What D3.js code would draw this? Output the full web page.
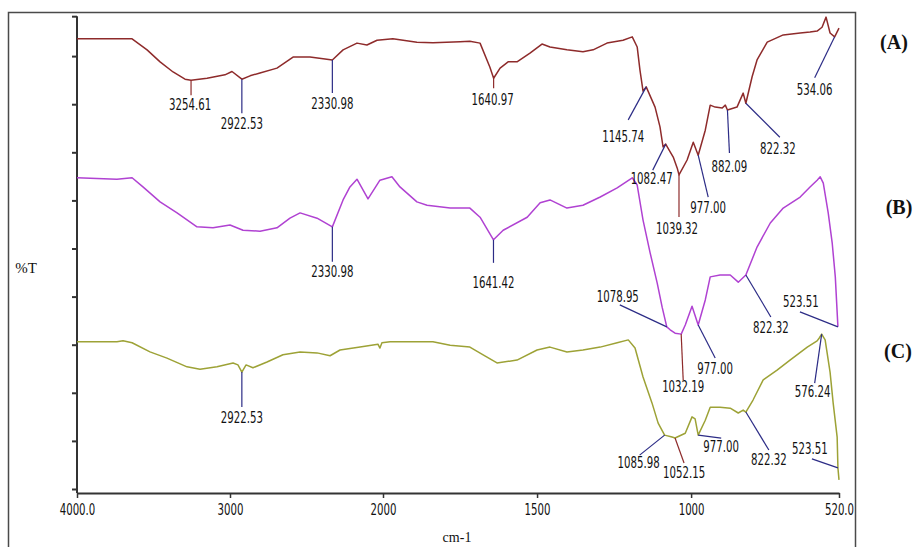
<!DOCTYPE html>
<html>
<head>
<meta charset="utf-8">
<script src="https://cdn.jsdelivr.net/npm/d3@7/dist/d3.min.js"></script>
<style>
  html, body { margin: 0; padding: 0; background: #fff; }
  svg { display: block; }
  .peak { font-family: "DejaVu Sans", sans-serif; font-size: 15px; fill: #111; }
  .tick-label { font-family: "DejaVu Sans", sans-serif; font-size: 15px; fill: #111; }
  .serif { font-family: "Liberation Serif", "DejaVu Serif", serif; fill: #111; }
</style>
</head>
<body>
<svg id="chart" width="916" height="547"></svg>
<script>
// FTIR spectra: wavenumber (cm-1) vs %T, three samples offset vertically
const seriesA = [
  [4000, 93.6], [3640, 93.6], [3542, 91.3], [3457, 88.8], [3372, 86.7], [3294, 85.2],
  [3254.61, 85.0], [3150, 85.4], [3033, 86.1], [2987, 86.8], [2922.53, 85.2], [2869, 85.9],
  [2804, 86.5], [2693, 87.5], [2588, 89.8], [2477, 89.8], [2379, 89.4], [2330.98, 89.2],
  [2261, 91.3], [2170, 92.7], [2105, 92.3], [2039, 93.3], [1968, 93.6], [1890, 92.9],
  [1838, 92.8], [1750, 93.0], [1718, 93.1], [1685, 92.7], [1653, 87.7], [1640.97, 85.4],
  [1620, 87.5], [1594, 88.8], [1565, 88.8], [1523, 90.6], [1484, 92.5], [1458, 91.9],
  [1403, 91.3], [1351, 90.9], [1318, 91.3], [1273, 92.7], [1221, 93.3], [1191, 94.0],
  [1175, 91.9], [1166, 87.1], [1156, 82.7], [1145.74, 83.6], [1117, 79.4], [1101, 75.3],
  [1091, 71.1], [1082.47, 71.7], [1068, 70.1], [1058, 69.0], [1045, 66.7], [1039.32, 65.3],
  [1013, 68.4], [993, 72.1], [977, 69.4], [954, 74.6], [938, 79.8], [922, 79.4],
  [899, 79.2], [889, 79.8], [882.09, 78.8], [851, 79.4], [831, 82.3], [822.32, 80.2],
  [802, 85.7], [786, 89.2], [753, 92.9], [701, 94.4], [646, 94.8], [614, 95.0],
  [591, 95.2], [575, 96.0], [562, 98.1], [549, 94.8], [534.06, 94.0], [520, 95.8]
];

const seriesB = [
  [4000, 64.7], [3739, 64.4], [3640, 64.7], [3569, 62.8], [3457, 59.7], [3346, 57.4],
  [3216, 54.5], [3111, 54.3], [3000, 54.9], [2915, 53.8], [2804, 53.6], [2693, 54.3],
  [2608, 56.3], [2542, 57.4], [2431, 56.3], [2330.98, 54.5], [2261, 60.1], [2216, 62.8],
  [2170, 64.4], [2098, 60.3], [2020, 64.2], [1971, 64.9], [1945, 62.8], [1890, 59.7],
  [1857, 59.0], [1782, 58.4], [1718, 58.4], [1685, 56.5], [1641.42, 51.8], [1610, 53.8],
  [1532, 56.5], [1490, 59.5], [1458, 60.1], [1403, 58.4], [1351, 59.0], [1295, 60.7],
  [1240, 62.6], [1191, 64.7], [1175, 63.2], [1156, 55.9], [1133, 49.1], [1110, 42.8],
  [1094, 37.8], [1078.95, 33.7], [1068, 33.1], [1052, 32.4], [1032.19, 32.2], [1019, 34.1],
  [997, 38.0], [977, 34.1], [954, 39.3], [938, 44.1], [906, 44.5], [873, 44.5],
  [847, 43.0], [822.32, 44.5], [786, 50.3], [743, 55.3], [701, 58.4], [646, 60.7],
  [614, 62.8], [591, 64.2], [581, 64.9], [571, 63.6], [555, 57.4], [542, 51.1],
  [532, 44.1], [523.51, 33.7]
];

const seriesC = [
  [4000, 30.6], [3739, 30.6], [3699, 30.8], [3640, 30.4], [3523, 28.5], [3412, 27.2],
  [3281, 25.4], [3196, 24.9], [3085, 25.4], [2980, 26.2], [2948, 25.8], [2922.53, 24.3],
  [2895, 25.8], [2850, 25.2], [2758, 26.4], [2654, 27.9], [2542, 28.5], [2431, 28.3],
  [2346, 27.7], [2281, 28.9], [2150, 29.5], [2033, 30.1], [2020, 29.3], [2007, 30.4],
  [1977, 30.6], [1890, 30.6], [1838, 30.6], [1782, 29.9], [1718, 29.5], [1675, 27.9],
  [1630, 26.2], [1565, 26.8], [1500, 28.9], [1458, 29.5], [1403, 28.5], [1351, 28.9],
  [1295, 29.5], [1240, 30.4], [1204, 31.0], [1182, 29.3], [1156, 23.3], [1127, 17.9],
  [1107, 13.7], [1085.98, 11.2], [1062, 10.8], [1052.15, 10.6], [1019, 11.6], [997, 15.0],
  [987, 14.6], [977, 11.2], [954, 14.3], [938, 17.0], [906, 17.0], [873, 16.8],
  [847, 15.8], [831, 16.4], [822.32, 16.0], [799, 18.5], [766, 22.7], [721, 24.7],
  [679, 26.8], [623, 29.5], [591, 30.8], [584, 31.4], [576.24, 32.2], [565, 31.0],
  [549, 24.3], [539, 17.9], [526, 10.8], [523.51, 4.4], [520, 1.9]
];

const seriesNames = ["(A)", "(B)", "(C)"];

// Marked peak positions (cm-1) for each spectrum
const peaksA = [3254.61, 2922.53, 2330.98, 1640.97, 1145.74, 1082.47, 1039.32, 977.00, 882.09, 822.32, 534.06];
const peaksB = [2330.98, 1641.42, 1078.95, 1032.19, 977.00, 822.32, 523.51];
const peaksC = [2922.53, 1085.98, 1052.15, 977.00, 822.32, 576.24, 523.51];

const wavenumberTicks = [4000, 3000, 2000, 1500, 1000, 520];
const wavenumberTickLabels = ["4000.0", "3000", "2000", "1500", "1000", "520.0"];
const transmittanceTicks = [0, 10, 20, 30, 40, 50, 60, 70, 80, 90, 98.3];

// ---- layout ----
const svg = d3.select("#chart");
const colors = { A: "#8e2b2b", B: "#b042d2", C: "#9da236" };
const leaderNavy = "#2c2c86";
const narrow = 0.68; // horizontal squeeze for the instrument's narrow lettering

// instrument-style expanded scale below 2000 cm-1
const x = d3.scaleLinear().domain([4000, 2000, 520]).range([77, 383, 839]);
const y = d3.scaleLinear().domain([0, 100]).range([489, 8]);

// outer frame
svg.append("rect")
  .attr("x", 8.5).attr("y", 12.5).attr("width", 847).attr("height", 560)
  .attr("fill", "none").attr("stroke", "#4a4a4a").attr("stroke-width", 1.5);

// y axis (no labels)
const yAxis = d3.axisLeft(y).tickValues(transmittanceTicks).tickSize(5).tickSizeOuter(0).tickFormat("");
const gy = svg.append("g").attr("transform", "translate(77,0)").call(yAxis);
gy.select(".domain").remove();
gy.append("line").attr("x1", 0).attr("x2", 0).attr("y1", y(98.3)).attr("y2", 493)
  .attr("stroke", "#333").attr("stroke-width", 2);
gy.selectAll(".tick line").attr("stroke", "#333").attr("stroke-width", 2);

// x axis
const xAxis = d3.axisBottom(x).tickValues(wavenumberTicks).tickSize(5).tickSizeOuter(0)
  .tickFormat((d, i) => wavenumberTickLabels[i]);
const gx = svg.append("g").attr("transform", "translate(0,493)").call(xAxis);
gx.select(".domain").attr("stroke", "#333").attr("stroke-width", 2);
gx.selectAll(".tick line").attr("stroke", "#333").attr("stroke-width", 1.5);
gx.selectAll(".tick text").attr("class", "tick-label").attr("dy", "1.0em").attr("y", 7)
  .attr("transform", `scale(${narrow},1)`);
gx.attr("font-family", null).attr("font-size", null);
gy.attr("font-family", null).attr("font-size", null);

// axis titles
svg.append("text").attr("class", "serif").attr("x", 26).attr("y", 273)
  .attr("text-anchor", "middle").attr("font-size", 15).text("%T");
svg.append("text").attr("class", "serif").attr("x", 457).attr("y", 542)
  .attr("text-anchor", "middle").attr("font-size", 14).text("cm-1");

// spectra
const line = d3.line().x(d => x(d[0])).y(d => y(d[1]));
const spectra = [
  { key: "A", data: seriesA, peaks: peaksA },
  { key: "B", data: seriesB, peaks: peaksB },
  { key: "C", data: seriesC, peaks: peaksC }
];
spectra.forEach(s => {
  svg.append("path").datum(s.data)
    .attr("fill", "none").attr("stroke", colors[s.key])
    .attr("stroke-width", 1.5).attr("stroke-linejoin", "round")
    .attr("d", line);
});

// leader offsets [lineEndDx, lineEndDy, labelDx, labelDy, own colour?] per peak label
const leaderLayout = {
  A: [[0, 15, -1, 25, true], [0, 34, 0, 45, false], [0, 33, 0, 44, false], [0, 10, -1, 22, true],
      [-18, 33, -23, 50, false], [-13, 26, -14, 35, false], [0, 42, -2, 54, true],
      [10, 42, 10, 53, false], [2, 43, 2, 57, false], [34, 34, 32, 45, false], [-20, 41, -20, 53, false]],
  B: [[0, 35, 0, 45, false], [0, 23, 0, 43, false], [-47, -22, -49, -30, false], [2, 46, 2, 53, true],
      [17, 33, 17, 44, false], [25, 42, 25, 53, false], [-38, -15, -37, -25, false]],
  C: [[0, 35, 0, 46, false], [-25, 20, -26, 28, false], [9, 25, 9, 35, true], [23, 3, 23, 12, false],
      [23, 38, 23, 48, false], [-7, 49, -9, 58, false], [-26, -9, -28, -19, false]]
};

spectra.forEach(s => {
  s.peaks.forEach((wn, i) => {
    const pt = s.data.find(d => Math.abs(d[0] - wn) < 0.01);
    const px = x(pt[0]), py = y(pt[1]);
    const [ldx, ldy, tdx, tdy, own] = leaderLayout[s.key][i];
    svg.append("line")
      .attr("x1", px).attr("y1", py).attr("x2", px + ldx).attr("y2", py + ldy)
      .attr("stroke", own ? colors.A : leaderNavy).attr("stroke-width", 1.2);
    svg.append("text").attr("class", "peak")
      .attr("transform", `translate(${px + tdx},${py + tdy}) scale(${narrow},1)`)
      .attr("text-anchor", "middle").attr("dominant-baseline", "central")
      .text(wn.toFixed(2));
  });
});

// sample tags on the right
const tagPos = [[894, 42], [899, 207], [898, 351]];
seriesNames.forEach((name, i) => {
  svg.append("text").attr("class", "serif")
    .attr("x", tagPos[i][0]).attr("y", tagPos[i][1])
    .attr("text-anchor", "middle").attr("dominant-baseline", "central")
    .attr("font-size", 20).attr("font-weight", "bold").text(name);
});
</script>
</body>
</html>
